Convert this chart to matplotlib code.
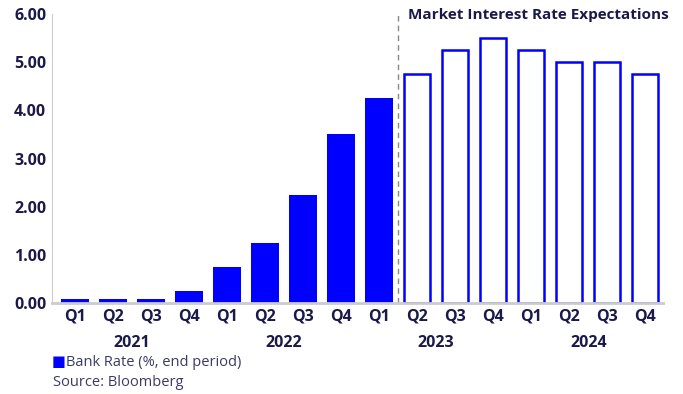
import numpy as np
import matplotlib.pyplot as plt

plt.rcParams['font.family'] = ['Open Sans', 'DejaVu Sans']

quarters = ['Q1', 'Q2', 'Q3', 'Q4', 'Q1', 'Q2', 'Q3', 'Q4',
            'Q1', 'Q2', 'Q3', 'Q4', 'Q1', 'Q2', 'Q3', 'Q4']
years = ['2021', '2022', '2023', '2024']
year_pos = [1.5, 5.5, 9.5, 13.5]
bank_rate = [0.10, 0.10, 0.10, 0.25, 0.75, 1.25, 2.25, 3.50, 4.25]
expectations = [4.75, 5.25, 5.50, 5.25, 5.00, 5.00, 4.75]

navy = '#1a1a4a'
blue = '#0000ff'

fig = plt.figure(figsize=(6.83, 3.94), dpi=100)
ax = fig.add_axes([0.076, 0.23, 0.894, 0.735])

x1 = np.arange(len(bank_rate))
x2 = np.arange(len(bank_rate), len(bank_rate) + len(expectations))
ax.bar(x1, bank_rate, width=0.74, color=blue, zorder=2)
ax.bar(x2, expectations, width=0.68, facecolor='white', edgecolor=blue,
       linewidth=1.8, zorder=2)

ax.axvline(8.5, color='#888888', linestyle=(0, (4, 3)), linewidth=1, zorder=1)
ax.text(8.75, 5.98, 'Market Interest Rate Expectations', fontsize=11,
        fontweight='bold', color=navy, va='center', ha='left')

ax.set_xlim(-0.6, 15.45)
ax.set_ylim(0, 6)
ax.set_yticks(np.arange(0, 7, 1))
ax.set_yticklabels(['%.2f' % v for v in np.arange(0, 7, 1)])
ax.set_xticks(np.arange(len(quarters)))
ax.set_xticklabels(quarters)
ax.tick_params(axis='both', length=0, labelsize=11.5, labelcolor=navy, pad=4)
for lbl in ax.get_xticklabels() + ax.get_yticklabels():
    lbl.set_fontweight('bold')

for y, p in zip(years, year_pos):
    ax.text(p, -0.83, y, fontsize=11.5, fontweight='bold', color=navy,
            ha='center', va='center', transform=ax.transData)

for s in ['top', 'right']:
    ax.spines[s].set_visible(False)
ax.spines['left'].set_color('#cccccc')
ax.spines['bottom'].set_color('#cccccc')
ax.spines['bottom'].set_linewidth(2)
ax.spines['bottom'].set_zorder(3)

fig.text(0.075, 0.081, '\u25a0', fontsize=10.5, color=blue, va='center')
fig.text(0.096, 0.081, 'Bank Rate (%, end period)', fontsize=10.5,
         color='#3a3a66', va='center')
fig.text(0.077, 0.028, 'Source: Bloomberg', fontsize=10.5, color='#3a3a66',
         va='center')

fig.savefig('out.png', dpi=100)
